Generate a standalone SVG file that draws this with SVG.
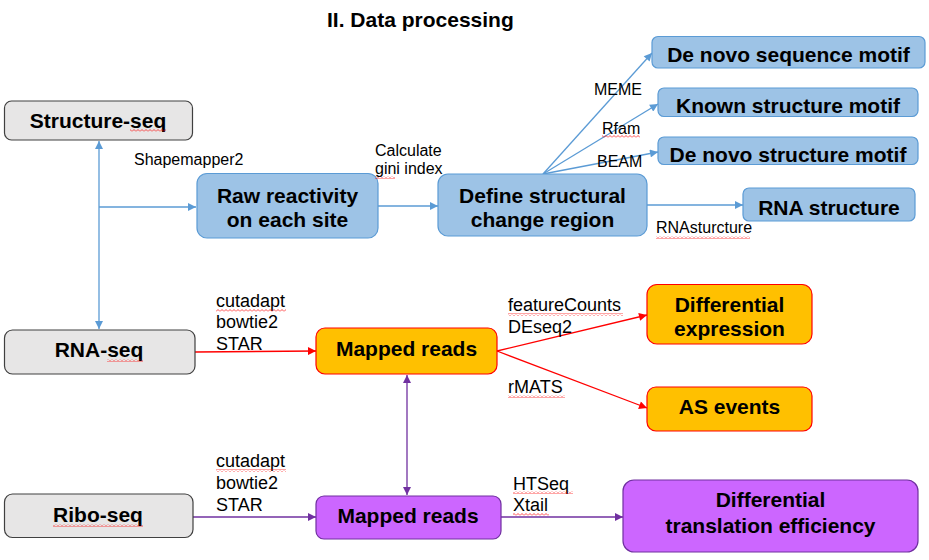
<svg xmlns="http://www.w3.org/2000/svg" width="929" height="560" viewBox="0 0 929 560">
<style>
text{font-family:"Liberation Sans",Arial,sans-serif;fill:#000}
.n{font-size:21px;font-weight:bold;text-anchor:middle}
.l16{font-size:16px}
.l18{font-size:18px}
.gray{fill:#e7e6e6;stroke:#404040;stroke-width:1.2}
.blue{fill:#9dc3e6;stroke:#5b9bd5;stroke-width:1.2}
.orange{fill:#ffc000;stroke:#ff0000;stroke-width:1.2}
.purple{fill:#cc66ff;stroke:#7030a0;stroke-width:1.2}
.cb{stroke:#5b9bd5;stroke-width:1.3;fill:none}
.cr{stroke:#ff0000;stroke-width:1.3;fill:none}
.cp{stroke:#7030a0;stroke-width:1.3;fill:none}
.sq{fill:url(#squig)}
</style>
<defs>
<marker id="ab" viewBox="0 0 10 10" refX="10" refY="5" markerWidth="9" markerHeight="8" markerUnits="userSpaceOnUse" orient="auto-start-reverse"><path d="M0,0 L10,5 L0,10 z" fill="#5b9bd5"/></marker>
<marker id="ar" viewBox="0 0 10 10" refX="10" refY="5" markerWidth="9" markerHeight="8" markerUnits="userSpaceOnUse" orient="auto-start-reverse"><path d="M0,0 L10,5 L0,10 z" fill="#ff0000"/></marker>
<marker id="ap" viewBox="0 0 10 10" refX="10" refY="5" markerWidth="9" markerHeight="8" markerUnits="userSpaceOnUse" orient="auto-start-reverse"><path d="M0,0 L10,5 L0,10 z" fill="#7030a0"/></marker>
<pattern id="squig" patternUnits="userSpaceOnUse" width="4" height="3"><path d="M0,2.5 L2,0.5 L4,2.5" stroke="#ff0000" stroke-width="0.7" fill="none"/></pattern>
</defs>

<text x="327" y="27" style="font-size:21px;font-weight:bold">II. Data processing</text>

<g id="connectors">
<line class="cb" x1="99" y1="141" x2="99" y2="329" marker-start="url(#ab)" marker-end="url(#ab)"/>
<line class="cb" x1="99" y1="207" x2="196" y2="207" marker-end="url(#ab)"/>
<line class="cb" x1="378" y1="206" x2="438" y2="206" marker-end="url(#ab)"/>
<line class="cb" x1="543" y1="174" x2="652" y2="53" marker-end="url(#ab)"/>
<line class="cb" x1="543" y1="174" x2="658" y2="104" marker-end="url(#ab)"/>
<line class="cb" x1="543" y1="174" x2="658" y2="152" marker-end="url(#ab)"/>
<line class="cb" x1="647" y1="205" x2="743" y2="205" marker-end="url(#ab)"/>
<line class="cr" x1="195" y1="352" x2="316" y2="351" marker-end="url(#ar)"/>
<line class="cr" x1="497" y1="351" x2="647" y2="315" marker-end="url(#ar)"/>
<line class="cr" x1="497" y1="351" x2="647" y2="408" marker-end="url(#ar)"/>
<line class="cp" x1="407" y1="375" x2="407" y2="495" marker-start="url(#ap)" marker-end="url(#ap)"/>
<line class="cp" x1="193" y1="517" x2="316" y2="517" marker-end="url(#ap)"/>
<line class="cp" x1="501" y1="517" x2="623" y2="517" marker-end="url(#ap)"/>
</g>

<g id="labels">
<text class="l16" x="134" y="165">Shapemapper2</text>
<text class="l16" x="375" y="156">Calculate</text>
<text class="l16" x="375" y="174">gini index</text>
<text class="l16" x="594" y="95">MEME</text>
<text class="l16" x="602" y="134">Rfam</text>
<text class="l16" x="597" y="167">BEAM</text>
<text class="l16" x="656" y="233">RNAsturcture</text>
<text class="l18" x="216" y="307">cutadapt</text>
<text class="l18" x="216" y="328">bowtie2</text>
<text class="l18" x="216" y="350">STAR</text>
<text class="l18" x="508" y="311">featureCounts</text>
<text class="l18" x="508" y="333">DEseq2</text>
<text class="l18" x="508" y="393">rMATS</text>
<text class="l18" x="216" y="467">cutadapt</text>
<text class="l18" x="216" y="489">bowtie2</text>
<text class="l18" x="216" y="511">STAR</text>
<text class="l18" x="513" y="490">HTSeq</text>
<text class="l18" x="513" y="511">Xtail</text>
</g>

<g id="n-structure-seq"><rect class="gray" x="4.5" y="101" width="188" height="39" rx="7"/><text class="n" x="98" y="128">Structure-seq</text></g>
<g id="n-raw"><rect class="blue" x="197" y="173.5" width="181" height="64.5" rx="10"/><text class="n" x="287.5" y="203">Raw reactivity</text><text class="n" x="287.5" y="227">on each site</text></g>
<g id="n-define"><rect class="blue" x="438" y="174" width="209" height="62" rx="10"/><text class="n" x="542.5" y="203">Define structural</text><text class="n" x="542.5" y="227">change region</text></g>
<g id="n-seqmotif"><rect class="blue" x="652" y="36.5" width="273" height="31.5" rx="6"/><text class="n" x="788.5" y="62">De novo sequence motif</text></g>
<g id="n-known"><rect class="blue" x="658" y="88" width="260" height="28.5" rx="6"/><text class="n" x="788" y="113">Known structure motif</text></g>
<g id="n-strmotif"><rect class="blue" x="658" y="137" width="260" height="27.5" rx="6"/><text class="n" x="788" y="162">De novo structure motif</text></g>
<g id="n-rnastructure"><rect class="blue" x="743" y="188" width="172" height="33" rx="6"/><text class="n" x="829" y="215">RNA structure</text></g>
<g id="n-rnaseq"><rect class="gray" x="4.5" y="330" width="190.5" height="44" rx="8"/><text class="n" x="99" y="357">RNA-seq</text></g>
<g id="n-mapped1"><rect class="orange" x="316" y="328" width="181" height="46" rx="9"/><text class="n" x="406.5" y="356">Mapped reads</text></g>
<g id="n-diffexp"><rect class="orange" x="647" y="284.5" width="165" height="59.5" rx="10"/><text class="n" x="729.5" y="312">Differential</text><text class="n" x="729.5" y="336">expression</text></g>
<g id="n-as"><rect class="orange" x="647" y="387" width="165" height="44" rx="9"/><text class="n" x="729.5" y="414">AS events</text></g>
<g id="n-riboseq"><rect class="gray" x="4.5" y="494" width="188.5" height="43.5" rx="8"/><text class="n" x="98" y="522">Ribo-seq</text></g>
<g id="n-mapped2"><rect class="purple" x="316" y="496" width="185" height="43" rx="8"/><text class="n" x="408" y="523">Mapped reads</text></g>
<g id="n-difftrans"><rect class="purple" x="623" y="480" width="295" height="72" rx="11"/><text class="n" x="770.5" y="507">Differential</text><text class="n" x="770.5" y="533">translation efficiency</text></g>

<g id="spellcheck">
<rect class="sq" x="130" y="129" width="36" height="3"/>
<rect class="sq" x="375" y="176" width="20" height="3"/>
<rect class="sq" x="602" y="135" width="38" height="3"/>
<rect class="sq" x="656" y="236" width="94" height="3"/>
<rect class="sq" x="216" y="309" width="70" height="3"/>
<rect class="sq" x="107" y="359" width="36" height="3"/>
<rect class="sq" x="508" y="313" width="115" height="3"/>
<rect class="sq" x="508" y="395" width="57" height="3"/>
<rect class="sq" x="53" y="524" width="90" height="3"/>
<rect class="sq" x="216" y="469" width="70" height="3"/>
<rect class="sq" x="513" y="491" width="60" height="3"/>
<rect class="sq" x="513" y="513" width="36" height="3"/>
</g>
</svg>
